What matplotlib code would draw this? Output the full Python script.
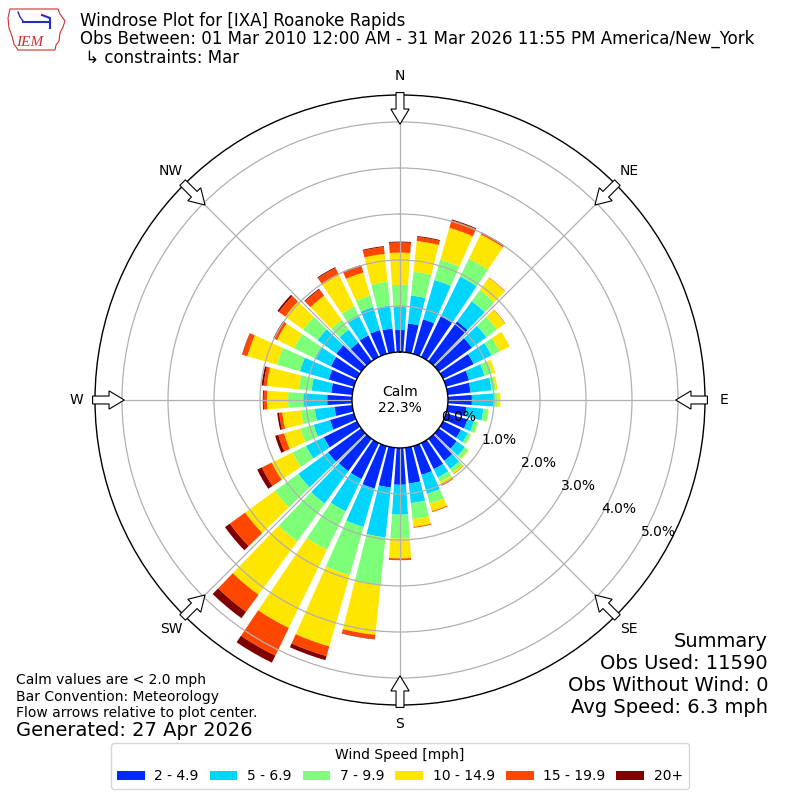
import numpy as np
import matplotlib
matplotlib.use("Agg")
import matplotlib.pyplot as plt
from matplotlib.patches import FancyArrow, Polygon
from matplotlib.lines import Line2D

# ---------------- data ----------------
directions = list(range(0, 360, 10))
speed_bins = ["2 - 4.9", "5 - 6.9", "7 - 9.9", "10 - 14.9", "15 - 19.9", "20+"]

pct_2_5 = [0.48, 0.63, 0.78, 0.98, 1.07, 0.89, 0.74, 0.52, 0.50, 0.52, 0.41, 0.48,
           0.43, 0.48, 0.59, 0.63, 0.65, 0.78, 0.80, 0.87, 0.96, 0.87, 0.87, 0.89,
           0.80, 0.54, 0.39, 0.54, 0.46, 0.57, 0.63, 0.67, 0.50, 0.52, 0.54, 0.52]
pct_5_7 = [0.50, 0.61, 0.89, 0.96, 0.54, 0.39, 0.43, 0.35, 0.46, 0.48, 0.37, 0.15,
           0.17, 0.22, 0.22, 0.20, 0.43, 0.43, 0.65, 1.09, 0.87, 0.78, 0.87, 0.80,
           0.43, 0.37, 0.43, 0.52, 0.43, 0.65, 0.39, 0.50, 0.35, 0.46, 0.52, 0.50]
pct_7_10 = [0.48, 0.52, 0.46, 0.43, 0.30, 0.28, 0.20, 0.17, 0.09, 0.07, 0.11, 0.09,
            0.07, 0.09, 0.09, 0.11, 0.22, 0.35, 0.52, 1.04, 1.09, 0.93, 1.02, 0.63,
            0.33, 0.30, 0.30, 0.33, 0.28, 0.52, 0.50, 0.39, 0.26, 0.24, 0.26, 0.52]
pct_10_15 = [0.70, 0.67, 0.72, 0.59, 0.33, 0.22, 0.24, 0.07, 0.04, 0.07, 0.01, 0.01,
             0.01, 0.02, 0.04, 0.07, 0.17, 0.17, 0.43, 1.09, 1.61, 1.89, 1.43, 0.80,
             0.50, 0.37, 0.41, 0.46, 0.70, 0.67, 0.41, 0.48, 0.65, 0.76, 0.52, 0.61]
pct_15_20 = [0.22, 0.09, 0.17, 0.04, 0.01, 0.01, 0.00, 0.00, 0.00, 0.00, 0.00, 0.00,
             0.00, 0.00, 0.01, 0.02, 0.02, 0.02, 0.04, 0.09, 0.22, 0.67, 0.46, 0.41,
             0.24, 0.13, 0.07, 0.07, 0.07, 0.11, 0.07, 0.17, 0.17, 0.17, 0.15, 0.15]
pct_20p = [0.02, 0.02, 0.02, 0.01, 0.00, 0.00, 0.00, 0.00, 0.00, 0.00, 0.00, 0.00,
           0.00, 0.00, 0.00, 0.00, 0.00, 0.00, 0.00, 0.01, 0.09, 0.17, 0.17, 0.13,
           0.11, 0.07, 0.04, 0.02, 0.04, 0.01, 0.02, 0.04, 0.02, 0.02, 0.02, 0.02]

compass_labels = ["N", "NE", "E", "SE", "S", "SW", "W", "NW"]
compass_angles = [0, 45, 90, 135, 180, 225, 270, 315]
ring_values = [0, 1, 2, 3, 4, 5]
calm_pct = 22.3

title_lines = ["Windrose Plot for [IXA] Roanoke Rapids",
               "Obs Between: 01 Mar 2010 12:00 AM - 31 Mar 2026 11:55 PM America/New_York",
               " \u21b3 constraints: Mar"]
note_lines = ["Calm values are < 2.0 mph",
              "Bar Convention: Meteorology",
              "Flow arrows relative to plot center."]
generated_text = "Generated: 27 Apr 2026"
summary_lines = ["Summary", "Obs Used: 11590", "Obs Without Wind: 0",
                 "Avg Speed: 6.3 mph"]

# ---------------- figure ----------------
W = H = 800
fig = plt.figure(figsize=(8, 8), dpi=100)


def fx(px):
    return px / W


def fy(py):
    return 1 - py / H


ax = fig.add_axes([fx(95), 95 / H, 610 / W, 610 / H], projection="polar")
ax.set_theta_zero_location("N")
ax.set_theta_direction(-1)

colors = plt.cm.jet(np.linspace(0, 1, 7)[1:])
series = [pct_2_5, pct_5_7, pct_7_10, pct_10_15, pct_15_20, pct_20p]
theta = np.deg2rad(directions)
bottom = np.zeros(len(directions))
handles = []
for vals, col, lab in zip(series, colors, speed_bins):
    v = np.array(vals)
    b = ax.bar(theta, v, width=np.deg2rad(8), bottom=bottom, color=col,
               edgecolor="none", label=lab, zorder=1)
    handles.append(b)
    bottom = bottom + v

ax.set_ylim(0, 5.587)
ax.set_rorigin(-1.043)
ax.set_yticks(ring_values[1:])
ax.set_yticklabels([])
ax.set_xticks(np.deg2rad(compass_angles))
ax.set_xticklabels([])
ax.tick_params(axis="both", length=0)
ax.grid(True, color="#b0b0b0", linewidth=0.9)
ax.spines["polar"].set_linewidth(1.0)
ax.spines["inner"].set_linewidth(1.0)

for rv in ring_values:
    ax.text(np.deg2rad(120), rv, f"{rv:.1f}%", ha="left", va="bottom",
            fontsize=10, zorder=20)

for ang, lab in zip(compass_angles, compass_labels):
    ax.text(np.deg2rad(ang), 6.0, lab, ha="center", va="center", fontsize=10)

ax.text(0.5, 0.5, f"Calm\n{calm_pct:.1f}%", transform=ax.transAxes,
        ha="center", va="center", fontsize=10, zorder=20)

# flow arrows at the outer ring
r0, r1 = 0.504, 0.452
for ang in compass_angles:
    a = np.deg2rad(ang)
    sx, sy = np.sin(a), np.cos(a)
    arr = FancyArrow(0.5 + r0 * sx, 0.5 + r0 * sy,
                     -(r0 - r1) * sx, -(r0 - r1) * sy,
                     width=0.013, head_width=0.030, head_length=0.025,
                     length_includes_head=True, facecolor="white",
                     edgecolor="black", linewidth=0.8,
                     transform=ax.transAxes, clip_on=False, zorder=30)
    ax.add_patch(arr)

# ---------------- header ----------------
iowa = [(10, 9), (58, 9), (60, 14), (65, 21), (63, 27), (60, 33), (59, 41),
        (56, 45), (55, 50), (18, 50), (14, 44), (12, 36), (9, 28), (8, 18)]
fig.patches.append(Polygon([(fx(x), fy(y)) for x, y in iowa], closed=True,
                           fill=False, edgecolor="#d03030", linewidth=0.8,
                           transform=fig.transFigure))
fig.lines.append(Line2D([fx(23), fx(50)], [fy(22), fy(22)], color="#2030c0",
                        linewidth=1.5, transform=fig.transFigure))
fig.lines.append(Line2D([fx(42), fx(50), fx(50)], [fy(15), fy(18), fy(28)],
                        color="#2030c0", linewidth=1.5, transform=fig.transFigure))
fig.lines.append(Line2D([fx(18), fx(20), fx(23)], [fy(12), fy(17), fy(21)],
                        color="#2030c0", linewidth=1.0, transform=fig.transFigure))
fig.text(fx(30), fy(46), "IEM", color="#d03030", fontsize=11, ha="center",
         va="baseline", family="Liberation Serif", style="italic")

baselines = [25.5, 44, 62.5]
for line, yb in zip(title_lines, baselines):
    fig.text(fx(80), fy(yb), line, fontsize=12, ha="left", va="baseline")

# ---------------- bottom texts ----------------
for line, yb in zip(note_lines, [684, 700.5, 717]):
    fig.text(fx(16), fy(yb), line, fontsize=10, ha="left", va="baseline")
fig.text(fx(16), fy(736), generated_text, fontsize=14, ha="left", va="baseline")

for line, yb in zip(summary_lines, [647, 669, 691, 713]):
    fig.text(fx(768), fy(yb), line, fontsize=14, ha="right", va="baseline")

leg = fig.legend(handles=handles, labels=speed_bins, loc="lower center",
                 bbox_to_anchor=(0.5, 0.014), borderaxespad=0.0, ncol=6,
                 fontsize=10, title="Wind Speed [mph]", title_fontsize=10,
                 handletextpad=0.7, columnspacing=0.78, frameon=True)

fig.savefig("out.png", dpi=100)
